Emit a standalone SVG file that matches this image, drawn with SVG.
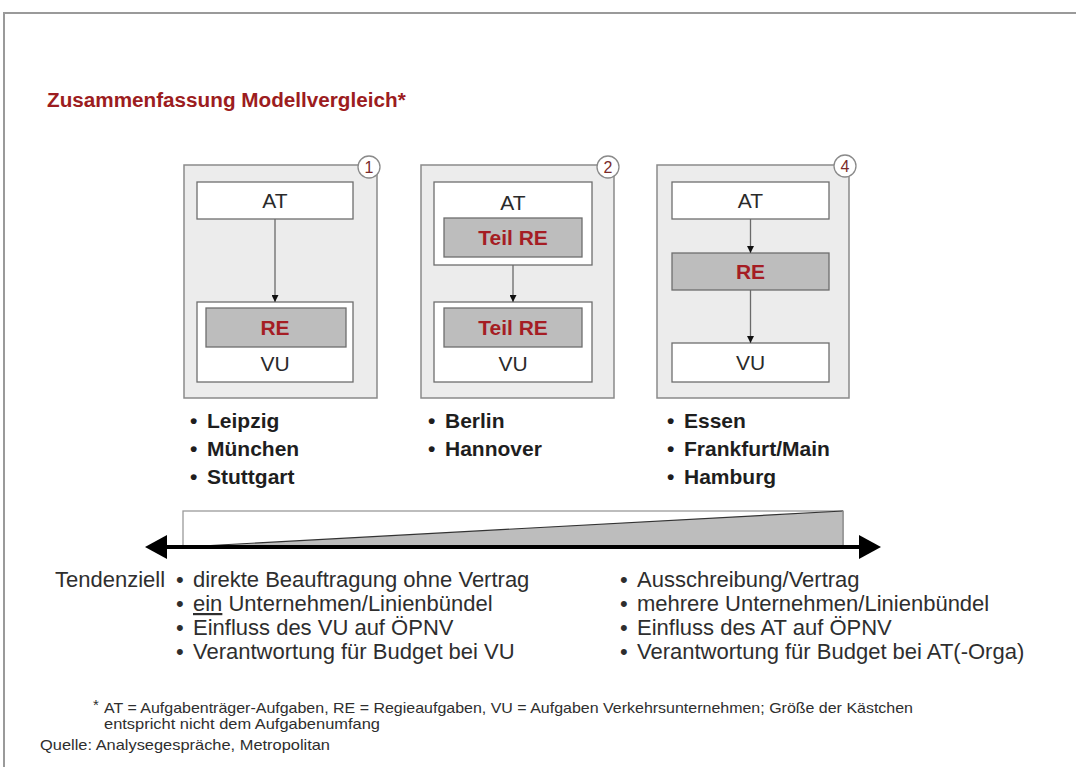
<svg xmlns="http://www.w3.org/2000/svg" width="1076" height="767" viewBox="0 0 1076 767">
<defs>
<style>
.txt{font-family:"Liberation Sans",Arial,sans-serif;fill:#2a2a2a}
.box{font-size:21px;text-anchor:middle}
.red{font-weight:bold;fill:#a51d24}
.outer{fill:#ececec;stroke:#8a8a8a;stroke-width:1.5}
.inner{fill:#ffffff;stroke:#6e6e6e;stroke-width:1.3}
.gray{fill:#bdbdbd;stroke:#6e6e6e;stroke-width:1.3}
.num{fill:#ffffff;stroke:#8a8a8a;stroke-width:1.3}
.numt{font-size:16px;text-anchor:middle;fill:#7a2a2a}
.city{font-size:21px;font-weight:bold;fill:#1e1e1e}
.body{font-size:22px;fill:#2e2e2e}
.foot{font-size:15px;fill:#2e2e2e}
.conn{stroke:#6a6a6a;stroke-width:1.3;fill:none;marker-end:url(#ah)}
</style>
<marker id="ah" viewBox="0 0 10 10" refX="10" refY="5" markerWidth="7" markerHeight="7" markerUnits="userSpaceOnUse" orient="auto"><path d="M0,0 L10,5 L0,10 z" fill="#111"/></marker>
</defs>
<rect x="0" y="0" width="1076" height="767" fill="#ffffff"/>
<path d="M4,767 V13 H1076" fill="none" stroke="#9a9a9a" stroke-width="2"/>
<text class="txt" x="47" y="107" font-size="20.7" font-weight="bold" style="fill:#9c1c20">Zusammenfassung Modellvergleich*</text>

<g id="model1">
<rect class="outer" x="184" y="165" width="193" height="233"/>
<rect class="inner" x="197" y="182" width="156" height="37"/>
<text class="txt box" x="275" y="208">AT</text>
<rect class="inner" x="197" y="302" width="156" height="80"/>
<rect class="gray" x="206" y="308" width="140" height="39"/>
<text class="txt box red" x="275" y="335">RE</text>
<text class="txt box" x="275" y="371">VU</text>
<circle class="num" cx="369" cy="167" r="11"/>
<text class="txt numt" x="369" y="173">1</text>
</g>

<g id="model2">
<rect class="outer" x="421" y="165" width="193" height="233"/>
<rect class="inner" x="434" y="182" width="158" height="83"/>
<text class="txt box" x="513" y="210">AT</text>
<rect class="gray" x="444" y="218" width="138" height="39"/>
<text class="txt box red" x="513" y="245">Teil RE</text>
<rect class="inner" x="434" y="302" width="158" height="80"/>
<rect class="gray" x="444" y="308" width="138" height="39"/>
<text class="txt box red" x="513" y="335">Teil RE</text>
<text class="txt box" x="513" y="371">VU</text>
<circle class="num" cx="608" cy="167" r="11"/>
<text class="txt numt" x="608" y="173">2</text>
</g>

<g id="model4">
<rect class="outer" x="657" y="165" width="192" height="233"/>
<rect class="inner" x="672" y="182" width="157" height="37"/>
<text class="txt box" x="750.5" y="208">AT</text>
<rect class="gray" x="672" y="253" width="157" height="37"/>
<text class="txt box red" x="750.5" y="279">RE</text>
<rect class="inner" x="672" y="343" width="157" height="39"/>
<text class="txt box" x="750.5" y="370">VU</text>
<circle class="num" cx="845" cy="166" r="11"/>
<text class="txt numt" x="845" y="172">4</text>
</g>

<g id="connectors">
<line class="conn" x1="275" y1="219" x2="275" y2="302"/>
<line class="conn" x1="513" y1="265" x2="513" y2="302"/>
<line class="conn" x1="750.5" y1="219" x2="750.5" y2="253"/>
<line class="conn" x1="750.5" y1="290" x2="750.5" y2="343"/>
</g>

<g id="cities1">
<text class="txt city" x="190" y="428">•</text><text class="txt city" x="207" y="428">Leipzig</text>
<text class="txt city" x="190" y="456">•</text><text class="txt city" x="207" y="456">München</text>
<text class="txt city" x="190" y="484">•</text><text class="txt city" x="207" y="484">Stuttgart</text>
</g>
<g id="cities2">
<text class="txt city" x="428" y="428">•</text><text class="txt city" x="445" y="428">Berlin</text>
<text class="txt city" x="428" y="456">•</text><text class="txt city" x="445" y="456">Hannover</text>
</g>
<g id="cities4">
<text class="txt city" x="667" y="428">•</text><text class="txt city" x="684" y="428">Essen</text>
<text class="txt city" x="667" y="456">•</text><text class="txt city" x="684" y="456">Frankfurt/Main</text>
<text class="txt city" x="667" y="484">•</text><text class="txt city" x="684" y="484">Hamburg</text>
</g>

<g id="scale">
<rect x="183" y="511" width="660" height="36" fill="#ffffff" stroke="#9a9a9a" stroke-width="1.3"/>
<polygon points="183,547 843,511 843,547" fill="#bdbdbd"/>
<line x1="183" y1="547" x2="843" y2="511" stroke="#333" stroke-width="1.2"/>
<line x1="843" y1="511" x2="843" y2="547" stroke="#8a8a8a" stroke-width="1.3"/>
<line x1="160" y1="547" x2="866" y2="547" stroke="#000" stroke-width="4"/>
<polygon points="145,547 167,535 167,559" fill="#000"/>
<polygon points="881,547 859,535 859,559" fill="#000"/>
</g>

<g id="left-list">
<text class="txt body" x="55" y="587">Tendenziell</text>
<text class="txt body" x="176" y="587">•</text><text class="txt body" x="193" y="587">direkte Beauftragung ohne Vertrag</text>
<text class="txt body" x="176" y="611">•</text><text class="txt body" x="193" y="611"><tspan text-decoration="underline">ein</tspan> Unternehmen/Linienbündel</text>
<text class="txt body" x="176" y="635">•</text><text class="txt body" x="193" y="635">Einfluss des VU auf ÖPNV</text>
<text class="txt body" x="176" y="659">•</text><text class="txt body" x="193" y="659">Verantwortung für Budget bei VU</text>
</g>
<g id="right-list">
<text class="txt body" x="620" y="587">•</text><text class="txt body" x="637" y="587">Ausschreibung/Vertrag</text>
<text class="txt body" x="620" y="611">•</text><text class="txt body" x="637" y="611">mehrere Unternehmen/Linienbündel</text>
<text class="txt body" x="620" y="635">•</text><text class="txt body" x="637" y="635">Einfluss des AT auf ÖPNV</text>
<text class="txt body" x="620" y="659">•</text><text class="txt body" x="637" y="659">Verantwortung für Budget bei AT(-Orga)</text>
</g>

<g id="footnote">
<text class="txt foot" x="93" y="710" font-size="11">*</text>
<text class="txt foot" x="104" y="713" textLength="809" lengthAdjust="spacingAndGlyphs">AT = Aufgabenträger-Aufgaben, RE = Regieaufgaben, VU = Aufgaben Verkehrsunternehmen; Größe der Kästchen</text>
<text class="txt foot" x="104" y="729" textLength="276" lengthAdjust="spacingAndGlyphs">entspricht nicht dem Aufgabenumfang</text>
<text class="txt foot" x="40" y="750" textLength="290" lengthAdjust="spacingAndGlyphs">Quelle: Analysegespräche, Metropolitan</text>
</g>
</svg>
